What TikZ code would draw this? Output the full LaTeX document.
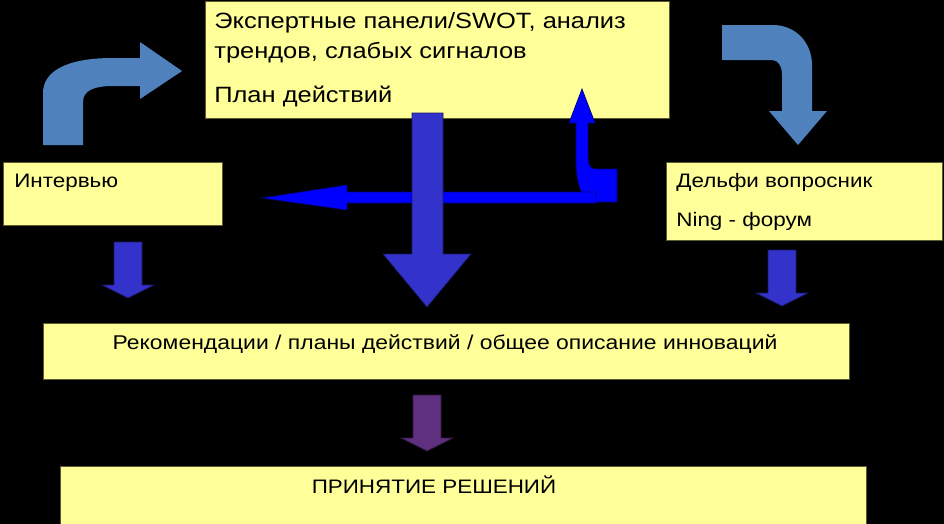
\documentclass[tikz,border=0pt]{standalone}
\usepackage{fontspec}
\setmainfont{Liberation Sans}
\newfontfamily\widesans[FakeStretch=1.15]{Liberation Sans}
\definecolor{boxfill}{RGB}{255,255,153}
\definecolor{boxline}{RGB}{90,90,50}
\definecolor{steel}{RGB}{79,129,189}
\definecolor{darkblue}{RGB}{51,51,204}
\definecolor{pureblue}{RGB}{0,0,255}
\definecolor{violet}{RGB}{96,48,128}
\tikzset{
	box/.style={draw=boxline,fill=boxfill,line width=.5pt,inner sep=0pt,anchor=north west},
	txt/.style={anchor=base west,inner sep=0pt,font=\widesans\fontsize{11.1}{14}\selectfont},
	bigtxt/.style={txt,font=\widesans\fontsize{12.6}{15}\selectfont},
	blk/.style={line width=.4pt,draw=black!50!#1,fill=#1}
}
\begin{document}
\begin{tikzpicture}[x=0.02cm,y=-0.02cm]
		\fill[black] (0,0) rectangle (944,524);
		\useasboundingbox (0,0) rectangle (944,524);
		% boxes
		\node[box,minimum width=9.28cm,minimum height=2.34cm] (expert) at (205,1) {};
		\node[box,minimum width=4.38cm,minimum height=1.26cm] (interview) at (3,162) {};
		\node[box,minimum width=5.52cm,minimum height=1.56cm] (delphi) at (666,162) {};
		\node[box,minimum width=16.12cm,minimum height=1.12cm] (recomm) at (43,323) {};
		\node[box,minimum width=16.12cm,minimum height=1.2cm] (decision) at (60,466) {};
		% texts
		\node[bigtxt] (expert1) at (214,29) {Экспертные панели/SWOT, анализ};
		\node[bigtxt] (expert2) at (214,58) {трендов, слабых сигналов};
		\node[bigtxt] (expert3) at (214,102) {План действий};
		\node[txt] (interview1) at (14,187) {Интервью};
		\node[txt] (delphi1) at (676,187) {Дельфи вопросник};
		\node[txt] (delphi2) at (676,226) {Ning - форум};
		\node[txt,anchor=base,font=\widesans\fontsize{11.35}{14}\selectfont] (recomm1) at (445,349) {Рекомендации / планы действий / общее описание инноваций};
		\node[txt,anchor=base] (decision1) at (434,493) {ПРИНЯТИЕ РЕШЕНИЙ};
		% bent arrows
		\fill[steel] (43,145) -- (43,93) .. controls (43,72) and (65,58) .. (113,58)
			-- (140,58) -- (140,42) -- (182,71) -- (140,99) -- (140,86) -- (113,86)
			.. controls (95,86) and (83,90) .. (83,102) -- (83,145) -- cycle;
		\fill[steel] (722,25) -- (773,25) .. controls (795,25) and (812,42) .. (812,65)
			-- (812,111) -- (827,111) -- (798,145) -- (769,111) -- (782,111) -- (782,75)
			.. controls (782,66) and (778,60) .. (772,60) -- (722,60) -- cycle;
		\filldraw[blk=pureblue] (582,89) -- (595,123) -- (588,123) -- (588,158)
			.. controls (588,165) and (591,169) .. (595,169) -- (617,169) -- (617,202)
			-- (587,202) .. controls (578,190) and (576,175) .. (576,157)
			-- (576,123) -- (569,123) -- cycle;
		% straight arrows
		\filldraw[blk=pureblue] (596,192) -- (347,192) -- (347,185) -- (262,198)
			-- (347,210) -- (347,203) -- (596,203) -- cycle;
		\filldraw[blk=darkblue] (412,113) -- (443,113) -- (443,254) -- (471,254)
			-- (427,307) -- (383,254) -- (412,254) -- cycle;
		\foreach \cx/\ty/\col in {128/242/darkblue, 782/250/darkblue, 427/395/violet}
		{
			\filldraw[blk=\col] (\cx-14,\ty) -- (\cx+14,\ty) -- (\cx+14,\ty+43)
				-- (\cx+26,\ty+43) -- (\cx,\ty+56) -- (\cx-26,\ty+43) -- (\cx-14,\ty+43) -- cycle;
		}
	\end{tikzpicture}
\end{document}
